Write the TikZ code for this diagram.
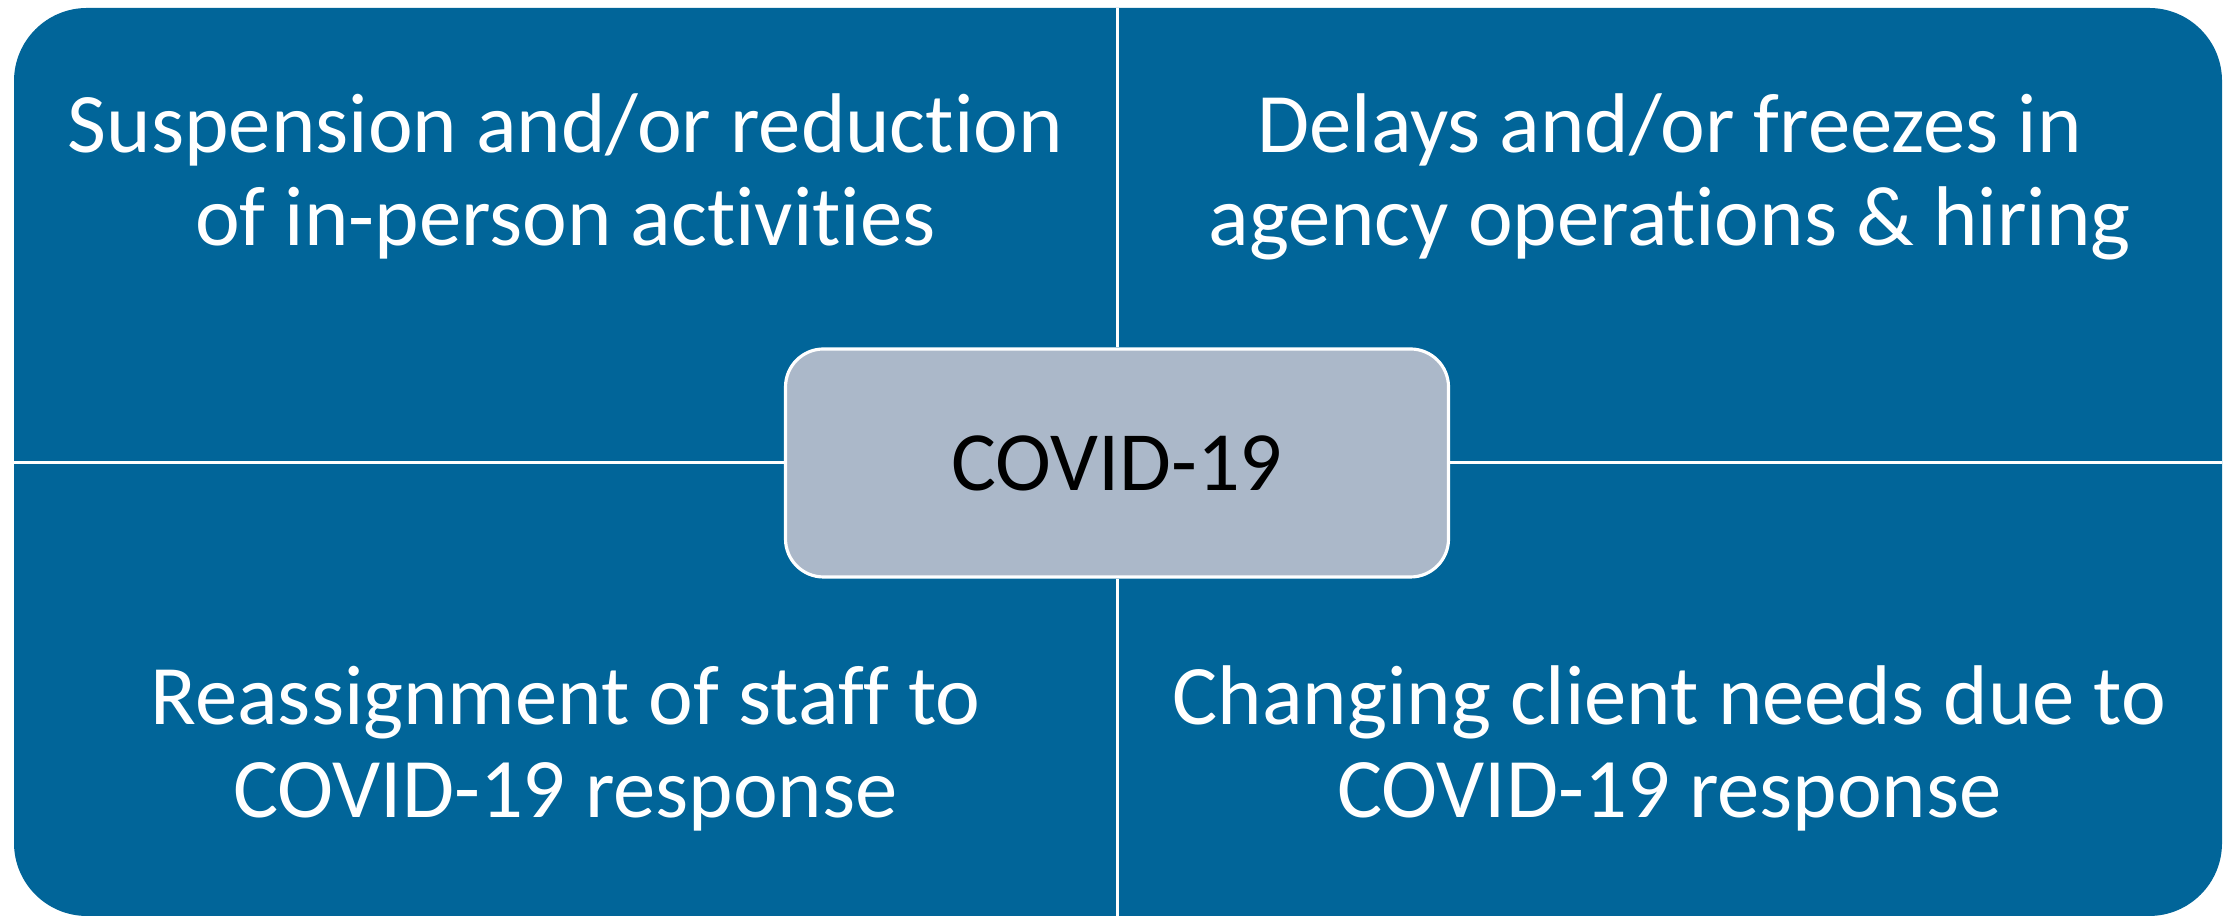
\documentclass[tikz,border=0pt]{standalone}
\usepackage{fontspec}
\setmainfont{Carlito}[Ligatures={NoCommon,NoContextual}]
\usepackage{tikz}
\usetikzlibrary{positioning}
\definecolor{quadblue}{RGB}{1,101,153}
\definecolor{hubgrey}{RGB}{171,184,201}

\begin{document}
\begin{tikzpicture}[
  quadtext/.style={text=white, align=center, anchor=base,
    font=\fontsize{24.1pt}{26.5pt}\selectfont},
  hub/.style={draw=white, line width=0.9pt, fill=hubgrey, rounded corners=0.38cm,
    minimum width=6.63cm, minimum height=2.28cm,
    font=\fontsize{24pt}{28pt}\selectfont},
  divider/.style={white, line width=0.85pt}]
 \useasboundingbox (0,0) rectangle (22.26,9.16);
 \fill[quadblue, rounded corners=0.73cm] (0.14,0) rectangle (22.22,9.08);

 \coordinate (top) at (11.17,9.08);
 \coordinate (bottom) at (11.17,0);
 \coordinate (left) at (0.14,4.53);
 \coordinate (right) at (22.22,4.53);

 % base anchor sits on the last line
 \node[quadtext] (susp) at (5.655,6.70) {Suspension and/or reduction\\of in-person activities};
 \node[quadtext] (delay) at (16.695,6.70) {Delays and/or freezes in\\agency operations \& hiring};
 \node[quadtext] (staff) at (5.655,0.98) {Reassignment of staff to\\COVID-19 response};
 \node[quadtext] (client) at (16.695,0.98) {Changing client needs due to\\COVID-19 response};

 \node[hub] (covid) at (11.17,4.53) {COVID-19};

 \draw[divider] (top) -- (covid.north);
 \draw[divider] (covid.south) -- (bottom);
 \draw[divider] (left) -- (covid.west);
 \draw[divider] (covid.east) -- (right);
\end{tikzpicture}
\end{document}
